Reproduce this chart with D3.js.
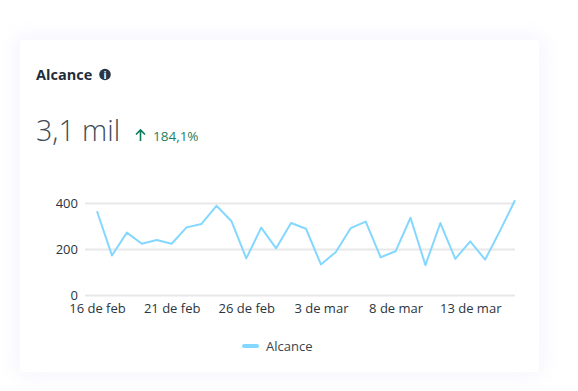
<!DOCTYPE html>
<html lang="es">
<head>
<meta charset="utf-8">
<title>Alcance</title>
<script src="https://cdn.jsdelivr.net/npm/d3@7"></script>
<style>
  html, body { margin: 0; padding: 0; background: #fff; overflow: hidden; }
  #chart { position: relative; width: 578px; height: 391px; }
  #card {
    position: absolute; left: 20px; top: 40px; width: 519px; height: 332px;
    background: #fff; border-radius: 4px;
    box-shadow: 0 0 20px 4px rgba(190, 190, 245, 0.16);
  }
  svg { position: absolute; left: 0; top: 0; font-family: "Open Sans", "Noto Sans", sans-serif; }
  .axis { font-family: "Open Sans", "Noto Sans", sans-serif; }
  .axis path, .axis line { display: none; }
  .axis text { font-size: 13px; fill: #2b3540; }
  .grid line { stroke: #e8e8e8; stroke-width: 2px; }
  .grid path { display: none; }
</style>
</head>
<body>
<div id="chart"><div id="card"></div></div>
<script>
// 16 Feb to 16 Mar, one value per day
const days = [
  '16 de feb', '17 de feb', '18 de feb', '19 de feb', '20 de feb', '21 de feb', '22 de feb',
  '23 de feb', '24 de feb', '25 de feb', '26 de feb', '27 de feb', '28 de feb', '1 de mar',
  '2 de mar', '3 de mar', '4 de mar', '5 de mar', '6 de mar', '7 de mar', '8 de mar',
  '9 de mar', '10 de mar', '11 de mar', '12 de mar', '13 de mar', '14 de mar', '15 de mar', '16 de mar'
];
const reach = [
  364, 172, 271, 223, 239, 223, 294, 309, 388, 322, 159, 293, 203, 313, 288,
  133, 187, 291, 319, 164, 190, 336, 130, 313, 157, 233, 154, 280, 412
];
const xTicks = ['16 de feb', '21 de feb', '26 de feb', '3 de mar', '8 de mar', '13 de mar'];
const yTicks = [0, 200, 400];

const svg = d3.select('#chart').append('svg').attr('width', 578).attr('height', 391);

const x = d3.scalePoint().domain(days).range([97, 515]);
const y = d3.scaleLinear().domain([0, 400]).range([295, 203]);

// title + info icon
svg.append('text').attr('x', 36).attr('y', 80)
  .style('font-size', '14.5px').style('font-weight', 700).attr('fill', '#1f2d3a')
  .text('Alcance');
svg.append('circle').attr('cx', 105).attr('cy', 74.5).attr('r', 5.8).attr('fill', '#2a3644');
svg.append('text').attr('x', 105).attr('y', 78.5).attr('text-anchor', 'middle')
  .style('font-size', '10px').style('font-weight', 700).attr('fill', '#fff').text('i');

// headline number and change
svg.append('text').attr('x', 36).attr('y', 141)
  .style('font-size', '28.5px').style('font-weight', 300).attr('fill', '#414b55')
  .text('3,1 mil');
svg.append('path').attr('d', 'M140.5 141V130M136 134.5L140.5 130L145 134.5')
  .attr('fill', 'none').attr('stroke', '#0a7a5a').attr('stroke-width', 1.6);
svg.append('text').attr('x', 153).attr('y', 141)
  .style('font-size', '13.5px').attr('fill', '#1f7f62').text('184,1%');

// gridlines
svg.append('g').attr('class', 'grid')
  .attr('transform', 'translate(85,0)')
  .call(d3.axisLeft(y).tickValues(yTicks).tickSize(-430).tickFormat(''));

svg.append('g').attr('class', 'axis')
  .attr('transform', 'translate(81,0)')
  .call(d3.axisLeft(y).tickValues(yTicks).tickSize(0).tickPadding(3));

svg.append('g').attr('class', 'axis')
  .attr('transform', 'translate(0,295)')
  .call(d3.axisBottom(x).tickValues(xTicks).tickSize(0).tickPadding(9));

const line = d3.line().x((d, i) => x(days[i])).y(d => y(d));
svg.append('path').datum(reach)
  .attr('d', line)
  .attr('fill', 'none')
  .attr('stroke', '#84d7fe')
  .attr('stroke-width', 2)
  .attr('stroke-linejoin', 'round');

// legend
svg.append('line').attr('x1', 244).attr('x2', 257).attr('y1', 346).attr('y2', 346)
  .attr('stroke', '#84d7fe').attr('stroke-width', 4).attr('stroke-linecap', 'round');
svg.append('text').attr('x', 266).attr('y', 350.5)
  .style('font-size', '13px').attr('fill', '#3a444e').text('Alcance');
</script>
</body>
</html>
